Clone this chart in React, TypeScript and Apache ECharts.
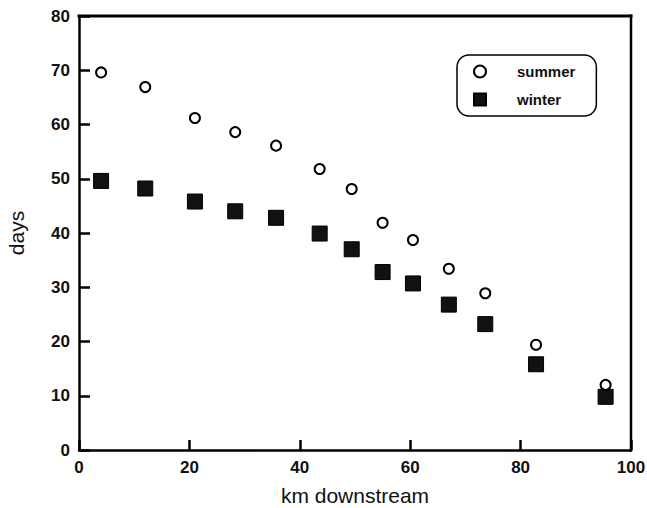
import React, { useEffect, useRef } from "react";
import * as echarts from "echarts";

const kmDownstream = [4, 12, 21, 28.3, 35.7, 43.6, 49.4, 55, 60.5, 67, 73.6, 82.8, 95.4];
const summerDays = [69.6, 66.9, 61.2, 58.6, 56.1, 51.8, 48.1, 41.9, 38.7, 33.4, 28.9, 19.4, 12.0];
const winterDays = [49.6, 48.2, 45.8, 44.0, 42.8, 39.9, 37.0, 32.8, 30.7, 26.8, 23.2, 15.8, 9.8];
const seriesNames = ["summer", "winter"];
const xRange = [0, 100];
const yRange = [0, 80];

export default function App() {
  const ref = useRef<HTMLDivElement>(null);
  useEffect(() => {
    if (!ref.current) return;
    const chart = echarts.init(ref.current, undefined, { renderer: "svg" });
    const font = "Liberation Sans, Arial, sans-serif";
    chart.setOption({
      animation: false,
      backgroundColor: "#fff",
      grid: { left: 79, right: 16, top: 16, bottom: 58, show: false, outerBoundsMode: "none", containLabel: false },
      legend: {
        data: [
          { name: seriesNames[0], icon: "circle" },
          { name: seriesNames[1], icon: "rect" },
        ],
        orient: "vertical",
        left: 457,
        top: 55,
        borderColor: "#000",
        borderWidth: 1.5,
        borderRadius: 12,
        padding: [9, 21, 9, 16],
        itemGap: 13,
        itemWidth: 12,
        itemHeight: 12,
        textStyle: { fontFamily: font, fontSize: 15, fontWeight: "bold", color: "#111", padding: [0, 0, 0, 26] },
      },
      xAxis: {
        type: "value",
        min: xRange[0],
        max: xRange[1],
        interval: 20,
        name: "km downstream",
        nameLocation: "middle",
        nameGap: 35,
        nameTextStyle: { fontFamily: font, fontSize: 21, color: "#111" },
        axisLine: { show: true, lineStyle: { color: "#000", width: 2.5 } },
        axisTick: { show: true, inside: true, length: 10, lineStyle: { color: "#000", width: 2.5 } },
        axisLabel: { fontFamily: font, fontSize: 17, fontWeight: "bold", color: "#111", margin: 9 },
        splitLine: { show: false },
      },
      yAxis: {
        type: "value",
        min: yRange[0],
        max: yRange[1],
        interval: 10,
        name: "days",
        nameLocation: "middle",
        nameGap: 52,
        nameTextStyle: { fontFamily: font, fontSize: 21, color: "#111" },
        axisLine: { show: true, lineStyle: { color: "#000", width: 2.5 } },
        axisTick: { show: true, inside: true, length: 11, lineStyle: { color: "#000", width: 2.5 } },
        axisLabel: { fontFamily: font, fontSize: 17, fontWeight: "bold", color: "#111", margin: 9 },
        splitLine: { show: false },
      },
      series: [
        {
          name: "frame",
          type: "custom",
          silent: true,
          clip: false,
          z: 5,
          data: [[xRange[0], yRange[0], xRange[1], yRange[1]]],
          renderItem: (params: any, api: any) => {
            const p0 = api.coord([api.value(0), api.value(1)]);
            const p1 = api.coord([api.value(2), api.value(3)]);
            const x0 = p0[0], y0 = p0[1], x1 = p1[0], y1 = p1[1];
            return {
              type: "group",
              children: [
                { type: "rect", shape: { x: x0 - 1.5, y: y1 - 1.5, width: x1 - x0 + 3, height: 3 }, style: { fill: "#000" } },
                { type: "rect", shape: { x: x1 - 1.25, y: y1 - 1.5, width: 2.5, height: y0 - y1 + 3 }, style: { fill: "#000" } },
              ],
            };
          },
        },
        {
          name: seriesNames[0],
          type: "scatter",
          symbol: "circle",
          symbolSize: 10,
          data: kmDownstream.map((x, i) => [x, summerDays[i]]),
          itemStyle: { color: "#fff", borderColor: "#000", borderWidth: 2, opacity: 1 },
          z: 3,
        },
        {
          name: seriesNames[1],
          type: "scatter",
          symbol: "rect",
          symbolSize: [15, 15],
          data: kmDownstream.map((x, i) => [x, winterDays[i]]),
          itemStyle: { color: "#111", borderColor: "#000", borderWidth: 1, opacity: 1 },
          z: 2,
        },
      ],
    });
    return () => chart.dispose();
  }, []);
  return <div ref={ref} style={{ width: 647, height: 508, position: "absolute", left: 0, top: 0 }} />;
}
